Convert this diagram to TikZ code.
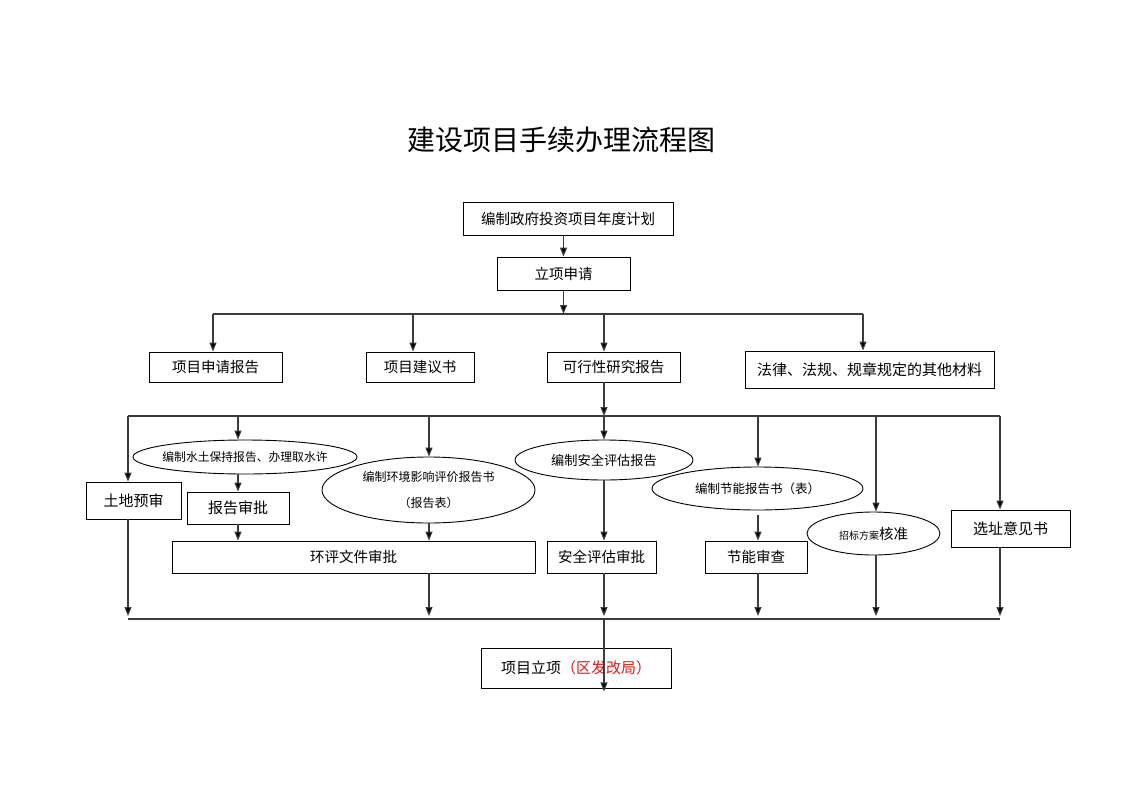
\documentclass[tikz,border=0pt]{standalone}
\usepackage{fontspec}
\setmainfont{Noto Sans CJK SC}
\usetikzlibrary{arrows.meta,shapes.geometric,calc}
\definecolor{linegray}{RGB}{60,60,60}
\definecolor{redtxt}{RGB}{230,20,20}
\begin{document}
\begin{tikzpicture}[x=1pt,y=-1pt,
  box/.style={draw=black,line width=0.9pt,inner sep=0pt,align=center,font=\fontsize{14.5}{17}\selectfont},
  ell/.style={draw=black,line width=0.9pt,ellipse,inner sep=0pt,align=center},
  ln/.style={draw=linegray,line width=1.1pt},
  arr/.style={ln,-{Triangle[length=9pt,width=7pt,fill=black]}}]
\useasboundingbox (0,0) rectangle (1122,793);
\fill[white] (0,0) rectangle (1122,793);
% title
\node[font=\fontsize{28}{32}\selectfont] (title) at (561,140) {建设项目手续办理流程图};
% top boxes
\node[box,minimum width=210pt,minimum height=33pt] (b1) at (568,218.5) {编制政府投资项目年度计划};
\node[box,minimum width=133pt,minimum height=33pt] (b2) at (563.5,273.5) {立项申请};
\node[box,minimum width=133pt,minimum height=30pt] (r1) at (215.5,367) {项目申请报告};
\node[box,minimum width=108pt,minimum height=30pt] (r2) at (420,367) {项目建议书};
\node[box,minimum width=133pt,minimum height=30pt] (r3) at (613.5,367) {可行性研究报告};
\node[box,minimum width=249pt,minimum height=37pt,font=\fontsize{15}{17}\selectfont] (r4) at (869.5,369.5) {法律、法规、规章规定的其他材料};
% coordinates for buses
\coordinate (busTL) at (213,314);
\coordinate (busTR) at (863,314);
\coordinate (busML) at (128,416);
\coordinate (busMR) at (1000,416);
\coordinate (busBL) at (128,619);
\coordinate (busBR) at (1000,619);
\coordinate (spine) at (604,416);
% middle nodes
\node[ell,inner xsep=-30pt,minimum width=224pt,minimum height=34pt,font=\fontsize{11.8}{13}\selectfont] (e1) at (245,457) {编制水土保持报告、办理取水许};
\node[box,minimum width=95pt,minimum height=37pt,font=\fontsize{15}{17}\selectfont] (land) at (133.5,500.5) {土地预审};
\node[box,minimum width=102pt,minimum height=32pt,font=\fontsize{15}{17}\selectfont] (rb) at (238,508) {报告审批};
\node[ell,minimum width=213pt,minimum height=66pt,font=\fontsize{12}{26}\selectfont] (e2) at (428.5,490) {编制环境影响评价报告书\\（报告表）};
\node[box,minimum width=363pt,minimum height=32pt] (hp) at (353.5,557) {环评文件审批};
\node[ell,minimum width=178pt,minimum height=40pt,font=\fontsize{13.2}{15}\selectfont] (e3) at (604,460) {编制安全评估报告};
\node[box,minimum width=109pt,minimum height=32pt] (sa) at (601.5,557) {安全评估审批};
\node[ell,minimum width=211pt,minimum height=43pt,font=\fontsize{12.5}{15}\selectfont] (e4) at (757.5,488.5) {编制节能报告书（表）};
\node[box,minimum width=102pt,minimum height=32pt] (jn) at (756,557) {节能审查};
\node[ell,minimum width=133pt,minimum height=43pt] (e5) at (873.5,533.5) {{\fontsize{10}{12}\selectfont 招标方案}{\fontsize{14.5}{16}\selectfont 核准}};
\node[box,minimum width=119pt,minimum height=37pt,font=\fontsize{15}{17}\selectfont] (xz) at (1010.5,528.5) {选址意见书};
\node[box,minimum width=190pt,minimum height=40pt,font=\fontsize{15}{17}\selectfont] (fin) at (576,668) {项目立项{\color{redtxt}（区发改局）}};
% connectors top
\draw[arr] (b2.north |- b1.south) -- (b2.north);
\draw[arr] (b2.south) -- (b2.south |- busTL);
\draw[ln] (busTL) -- (busTR);
\draw[arr] (busTL) -- (busTL |- r1.north);
\draw[arr] (busTL -| 413,0) -- (r2.north -| 413,0);
\draw[arr] (spine |- busTL) -- (spine |- r3.north);
\draw[arr] (busTR) -- (busTR |- r4.north);
\draw[arr] (spine |- r3.south) -- (spine);
% middle bus
\draw[ln] (busML) -- (busMR);
\draw[arr] (busML) -- (busML |- land.north);
\draw[arr] (busML -| rb) -- (rb |- e1.north);
\draw[arr] (busML -| 429,0) -- (e2.north -| 429,0);
\draw[arr] (spine) -- (e3.north -| spine);
\draw[arr] (busML -| 758,0) -- (e4.north -| 758,0);
\draw[arr] (busML -| 876,0) -- (e5.north -| 876,0);
\draw[arr] (busMR) -- (busMR |- xz.north);
% inner links
\draw[arr] (rb |- e1.south) -- (rb.north);
\draw[arr] (rb.south) -- (rb.south |- hp.north);
\draw[arr] (e2.south -| 429,0) -- (hp.north -| 429,0);
\draw[arr] (e3.south -| spine) -- (sa.north -| spine);
\draw[arr] ($(e4.south -| 758,0)+(0,5)$) -- (jn.north -| 758,0);
% down to bottom bus
\draw[arr] (land.south -| busBL) -- ($(busBL)+(0,-3)$);
\draw[arr] (hp.south -| 429,0) -- ($(busBL -| 429,0)+(0,-3)$);
\draw[arr] (sa.south -| spine) -- ($(busBL -| spine)+(0,-3)$);
\draw[arr] (jn.south -| 758,0) -- ($(busBL -| 758,0)+(0,-3)$);
\draw[arr] (e5.south -| 876,0) -- ($(busBL -| 876,0)+(0,-3)$);
\draw[arr] (xz.south -| busBR) -- ($(busBR)+(0,-3)$);
\draw[ln] (busBL) -- (busBR);
\draw[arr] (busBL -| spine) -- ($(fin.south -| spine)+(0,3)$);
\end{tikzpicture}
\end{document}
